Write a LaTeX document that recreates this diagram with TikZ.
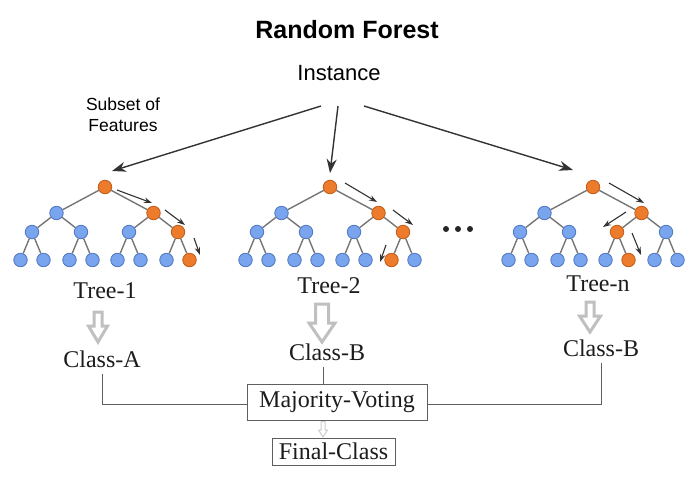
\documentclass[tikz,border=0pt]{standalone}
\usepackage{fontspec}
\setmainfont{Liberation Serif}
\newfontfamily\sansf{Liberation Sans}
\usetikzlibrary{arrows.meta,calc}

\definecolor{nblue}{RGB}{120,165,238}
\definecolor{nblueb}{RGB}{78,118,194}
\definecolor{norange}{RGB}{236,124,44}
\definecolor{noranb}{RGB}{196,90,22}
\definecolor{edgec}{RGB}{118,118,118}
\definecolor{holc}{RGB}{192,192,192}
\definecolor{linec}{RGB}{95,95,95}
\definecolor{txtc}{RGB}{28,28,28}

\tikzset{
  tn/.style={circle, draw=nblueb, fill=nblue, line width=0.8pt, minimum size=13.5pt, inner sep=0pt},
  on/.style={draw=noranb, fill=norange},
  edge/.style={draw=edgec, line width=1.4pt},
  patharrow/.style={draw=black!80, line width=1.1pt, -{Stealth[length=8pt,width=5.5pt]}},
  instarrow/.style={draw=black!80, line width=1.4pt, -{Stealth[length=14pt,width=10pt]}},
  hol/.style={draw=holc, line width=3pt, fill=white, line join=miter},
  lab/.style={font=\fontsize{24}{28}\selectfont, text=txtc, inner sep=0pt},
  box/.style={draw=linec, line width=1pt, font=\fontsize{24}{28}\selectfont, text=txtc, inner sep=0pt},
  conn/.style={draw=linec, line width=1pt},
  st/t1r/.style={on}, st/t1b/.style={on}, st/t1bb/.style={on}, st/t1bbb/.style={on},
  st/t2r/.style={on}, st/t2b/.style={on}, st/t2bb/.style={on}, st/t2bba/.style={on},
  st/t3r/.style={on}, st/t3b/.style={on}, st/t3ba/.style={on}, st/t3bab/.style={on},
}

\newcommand\mktree[2]{%
  \pgfmathsetmacro\xr{#2}%
  \pgfmathsetmacro\xa{#2-48.5}\pgfmathsetmacro\xb{#2+48.5}%
  \pgfmathsetmacro\xaa{\xa-24.5}\pgfmathsetmacro\xab{\xa+24.5}%
  \pgfmathsetmacro\xba{\xb-24.5}\pgfmathsetmacro\xbb{\xb+24.5}%
  \node[tn,st/#1r/.try] (#1r) at (\xr,187) {};
  \node[tn,st/#1a/.try] (#1a) at (\xa,213) {};
  \node[tn,st/#1b/.try] (#1b) at (\xb,213) {};
  \node[tn,st/#1aa/.try] (#1aa) at (\xaa,232) {};
  \node[tn,st/#1ab/.try] (#1ab) at (\xab,232) {};
  \node[tn,st/#1ba/.try] (#1ba) at (\xba,232) {};
  \node[tn,st/#1bb/.try] (#1bb) at (\xbb,232) {};
  \node[tn,st/#1aaa/.try] (#1aaa) at (\xaa-11.5,260) {};
  \node[tn,st/#1aab/.try] (#1aab) at (\xaa+11.5,260) {};
  \node[tn,st/#1aba/.try] (#1aba) at (\xab-11.5,260) {};
  \node[tn,st/#1abb/.try] (#1abb) at (\xab+11.5,260) {};
  \node[tn,st/#1baa/.try] (#1baa) at (\xba-11.5,260) {};
  \node[tn,st/#1bab/.try] (#1bab) at (\xba+11.5,260) {};
  \node[tn,st/#1bba/.try] (#1bba) at (\xbb-11.5,260) {};
  \node[tn,st/#1bbb/.try] (#1bbb) at (\xbb+11.5,260) {};
  \draw[edge] (#1r) -- (#1a); \draw[edge] (#1r) -- (#1b);
  \draw[edge] (#1a) -- (#1aa); \draw[edge] (#1a) -- (#1ab);
  \draw[edge] (#1b) -- (#1ba); \draw[edge] (#1b) -- (#1bb);
  \foreach \p in {aa,ab,ba,bb}{
    \draw[edge] (#1\p) -- (#1\p a); \draw[edge] (#1\p) -- (#1\p b);
  }%
}

\newcommand\holarrow[7]{% name, x, ytop, ybot, shaft half, head half, head length
  \draw[hol] (#2-#5,#3) -- (#2+#5,#3) -- (#2+#5,#4-#7) -- (#2+#6,#4-#7) -- (#2,#4)
    -- (#2-#6,#4-#7) -- (#2-#5,#4-#7) -- cycle;
  \coordinate (#1) at (#2,#3);
}

\begin{document}
\begin{tikzpicture}[x=1pt,y=-1pt]
\useasboundingbox[fill=white] (0,0) rectangle (698,477);

% titles
\node[font=\sansf\bfseries\fontsize{25}{30}\selectfont, inner sep=0pt] (title) at (347,30) {Random Forest};
\node[font=\sansf\fontsize{22}{26}\selectfont, inner sep=0pt] (inst) at (339,73) {Instance};
\node[font=\sansf\fontsize{17.5}{21}\selectfont, align=center, inner sep=0pt] (sub) at (123,115) {Subset of\\Features};

% trees
\mktree{t1}{105}
\mktree{t2}{330}
\mktree{t3}{593}

% dots
\foreach \dx [count=\i] in {446,458,470}{
  \fill[black!85] (\dx,229) circle (3pt) coordinate (dot\i);
}

% instance arrows
\coordinate (a1s) at (321,106); \coordinate (a1e) at (112,171);
\coordinate (a2s) at (338,106); \coordinate (a2e) at (330,173);
\coordinate (a3s) at (364,106); \coordinate (a3e) at (573,170);
\draw[instarrow] (a1s) -- (a1e);
\draw[instarrow] (a2s) -- (a2e);
\draw[instarrow] (a3s) -- (a3e);

% path arrows tree 1
\coordinate (p11s) at (117,190); \coordinate (p11e) at (152,203);
\coordinate (p12s) at (165,210); \coordinate (p12e) at (185,225);
\coordinate (p13s) at (194,238); \coordinate (p13e) at (200,255);
\draw[patharrow] (p11s) -- (p11e);
\draw[patharrow] (p12s) -- (p12e);
\draw[patharrow] (p13s) -- (p13e);
% tree 2
\coordinate (p21s) at (345,183); \coordinate (p21e) at (377,202);
\coordinate (p22s) at (393,210); \coordinate (p22e) at (413,225);
\coordinate (p23s) at (386,245); \coordinate (p23e) at (380,262);
\draw[patharrow] (p21s) -- (p21e);
\draw[patharrow] (p22s) -- (p22e);
\draw[patharrow] (p23s) -- (p23e);
% tree n
\coordinate (p31s) at (609,183); \coordinate (p31e) at (644,203);
\coordinate (p32s) at (626,212); \coordinate (p32e) at (603,227);
\coordinate (p33s) at (632,233); \coordinate (p33e) at (641,255);
\draw[patharrow] (p31s) -- (p31e);
\draw[patharrow] (p32s) -- (p32e);
\draw[patharrow] (p33s) -- (p33e);

% labels
\node[lab] (l1) at (105,291) {Tree-1};
\node[lab] (l2) at (329,286) {Tree-2};
\node[lab] (l3) at (598,284) {Tree-n};
\node[lab] (c1) at (102,359) {Class-A};
\node[lab] (c2) at (327,352) {Class-B};
\node[lab] (c3) at (601,348) {Class-B};

% hollow arrows
\holarrow{h1}{98}{312}{342}{4}{9.5}{16}
\holarrow{h2}{322}{304}{342}{6.5}{13}{19}
\holarrow{h3}{590}{302}{332}{4}{10.5}{16}

% boxes
\node[box, minimum width=180pt, minimum height=36pt] (mv) at (337,402) {Majority-Voting};
\node[box, minimum width=123pt, minimum height=27pt] (fc) at (333.5,451.5) {Final-Class};

% connectors
\draw[conn] ([yshift=-6pt]c1.south) |- ([yshift=-2pt]mv.west);
\draw[conn] ([yshift=-6pt]c3.south) |- ([yshift=-2pt]mv.east);
\draw[conn] ([yshift=-6pt]c2.south -| 323,0) -- (mv.north -| 323,0);

% small hollow arrow
\draw[draw=holc!80, line width=1pt, fill=white] (321,421.5) -- (325,421.5) -- (325,430) -- (327.5,430) -- (323,437) -- (318.5,430) -- (321,430) -- cycle;
\end{tikzpicture}
\end{document}
